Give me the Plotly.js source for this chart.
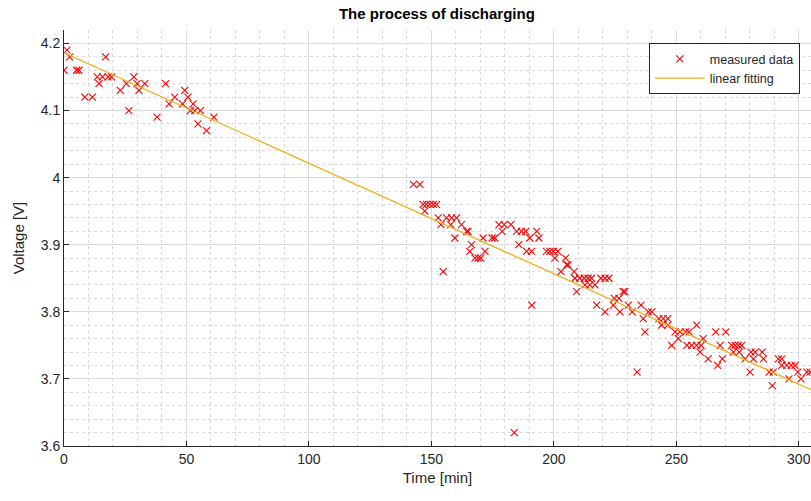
<!DOCTYPE html>
<html>
<head>
<meta charset="utf-8">
<script src="https://cdn.plot.ly/plotly-3.0.1.min.js"></script>
<style>html,body{margin:0;padding:0;background:#fff;}#chart{width:811px;height:501px;}</style>
</head>
<body>
<div id="chart"></div>
<script>
// measured data: time [min]
const timeMin = [
  0, 1.2, 2.3, 5.1, 6.1, 8.5, 11.6, 13.6, 14.3, 15.7, 17, 18, 19.4, 23, 25.5, 26.5, 28.5, 29.8, 30.6, 33,
  38, 41.5, 42.9, 45.2, 48.4, 49.3, 50.6, 51.6, 52.7, 53.4, 54.7, 55.7, 58.2, 61.2,
  142.7, 145.3, 146.6, 147.3, 148.0, 149.4, 150.8, 152.1, 152.8, 153.9, 154.8, 156.2, 157.9, 158.3, 159.6, 160.3,
  162.3, 164.4, 165, 165.7, 166.4, 167.8, 169.1, 170.2, 171.1, 171.9, 174.8, 175.9, 177.6, 178.9, 179.7, 182.5,
  183.8, 184.8, 185.7, 186.8, 188.5, 188.9, 190.2, 190.9, 191, 193, 193.9,
  197, 198.4, 199.8, 200.4, 201.6, 202.9, 204.8, 205.3, 205.8, 208.3, 208.6, 209.3, 210.6, 212.4, 212.7, 214, 214.7,
  215.4, 216.8, 217.5, 219.2, 220.9, 220.9, 222.5, 224.3, 224.7, 226.6, 227, 228.3, 229, 230.4, 232, 234, 235.6,
  236.5, 237.2, 238.6, 240, 242.9, 244, 244.7, 246.5, 246.5, 248.1, 249.5, 250.8, 251.5, 253.8, 254.3, 255.2, 256.3,
  258.3, 258.3, 259.7, 260.1, 261, 263, 266.1, 266.9, 267.9, 268.8, 270.2, 272.6, 273.3, 274, 275.4, 275.7, 276.7,
  278.1, 280.1, 280.5, 281.5, 282.2, 285.1, 285.6, 287.9, 289.2, 289.6, 291.7, 293.1, 293.1, 295.1, 296, 296.9,
  298.5, 299.6, 300.9, 303.3, 304.6
];
// measured data: voltage [V]
const voltage = [
  4.16, 4.19, 4.18, 4.16, 4.16, 4.12, 4.12, 4.15, 4.14, 4.15, 4.18, 4.15, 4.15, 4.13, 4.14, 4.10, 4.15, 4.14, 4.13, 4.14,
  4.09, 4.14, 4.11, 4.12, 4.11, 4.13, 4.12, 4.10, 4.11, 4.10, 4.08, 4.10, 4.07, 4.09,
  3.99, 3.99, 3.96, 3.95, 3.96, 3.96, 3.96, 3.96, 3.94, 3.93, 3.86, 3.94, 3.93, 3.94, 3.91, 3.94,
  3.93, 3.92, 3.92, 3.89, 3.90, 3.88, 3.88, 3.88, 3.91, 3.89, 3.91, 3.91, 3.93, 3.92, 3.93, 3.93,
  3.62, 3.92, 3.90, 3.92, 3.92, 3.89, 3.91, 3.89, 3.81, 3.92, 3.91,
  3.89, 3.89, 3.89, 3.88, 3.89, 3.86, 3.88, 3.87, 3.87, 3.86, 3.85, 3.83, 3.85, 3.85, 3.84, 3.85, 3.84,
  3.85, 3.84, 3.81, 3.85, 3.80, 3.85, 3.85, 3.81, 3.82, 3.82, 3.80, 3.83, 3.83, 3.81, 3.80, 3.71, 3.81,
  3.79, 3.77, 3.80, 3.80, 3.79, 3.78, 3.79, 3.79, 3.78, 3.75, 3.77, 3.76, 3.77, 3.77, 3.75, 3.77, 3.75,
  3.78, 3.75, 3.74, 3.75, 3.76, 3.73, 3.77, 3.72, 3.75, 3.73, 3.77, 3.75, 3.74, 3.75, 3.75, 3.74, 3.75,
  3.73, 3.71, 3.74, 3.73, 3.74, 3.74, 3.73, 3.71, 3.69, 3.71, 3.73, 3.73, 3.72, 3.72, 3.70, 3.72,
  3.72, 3.71, 3.70, 3.71, 3.71
];
// linear fitting line end points
const fitTime = [0, 305];
const fitVoltage = [4.186, 3.684];

const xTickVals = [0, 50, 100, 150, 200, 250, 300];
const xTickText = ['0', '50', '100', '150', '200', '250', '300'];
const yTickVals = [3.6, 3.7, 3.8, 3.9, 4.0, 4.1, 4.2];
const yTickText = ['3.6', '3.7', '3.8', '3.9', '4', '4.1', '4.2'];

const fontFam = 'Liberation Sans, Arial, Helvetica, sans-serif';
const txtColor = '#262626';

const traces = [
  {
    x: timeMin, y: voltage, type: 'scatter', mode: 'markers', name: 'measured data',
    marker: { symbol: 'x-thin-open', size: 7, color: '#ff0000', line: { color: '#ff0000', width: 1.1 } }
  },
  {
    x: fitTime, y: fitVoltage, type: 'scatter', mode: 'lines', name: 'linear fitting',
    line: { color: '#EDB120', width: 1.3 }
  }
];

const axisCommon = {
  showline: true, linecolor: txtColor, linewidth: 1, mirror: false,
  ticks: 'inside', ticklen: 5, tickcolor: txtColor, tickwidth: 1,
  showgrid: true, gridcolor: '#dcdcdc', gridwidth: 1, zeroline: false,
  tickfont: { family: fontFam, size: 14, color: txtColor },
};

const layout = {
  width: 811, height: 501,
  margin: { l: 64, r: 0, t: 30, b: 55, pad: 0 },
  paper_bgcolor: '#ffffff', plot_bgcolor: '#ffffff',
  title: { text: '<b>The process of discharging</b>', x: 0.5387, xanchor: 'center', y: 0.972, yanchor: 'middle',
           font: { family: fontFam, size: 15, color: '#000000' } },
  showlegend: true,
  legend: {
    x: 0.985, xanchor: 'right', y: 0.968, yanchor: 'top',
    bgcolor: '#ffffff', bordercolor: txtColor, borderwidth: 1,
    font: { family: fontFam, size: 12.5, color: txtColor },
    tracegroupgap: 0, itemwidth: 50
  },
  xaxis: Object.assign({}, axisCommon, {
    range: [0, 305], tickmode: 'array', tickvals: xTickVals, ticktext: xTickText,
    minor: { dtick: 10, tick0: 0, showgrid: true, gridcolor: '#d9d9d9', griddash: 'dot', gridwidth: 1, ticks: '' },
    title: { text: 'Time [min]', standoff: 6, font: { family: fontFam, size: 15, color: txtColor } }
  }),
  yaxis: Object.assign({}, axisCommon, {
    range: [3.6, 4.22], tickmode: 'array', tickvals: yTickVals, ticktext: yTickText,
    minor: { dtick: 0.02, tick0: 3.6, showgrid: true, gridcolor: '#d9d9d9', griddash: 'dot', gridwidth: 1, ticks: '' },
    title: { text: 'Voltage [V]', standoff: 12, font: { family: fontFam, size: 15, color: txtColor } }
  })
};

Plotly.newPlot('chart', traces, layout, { displayModeBar: false, staticPlot: true });
</script>
</body>
</html>
